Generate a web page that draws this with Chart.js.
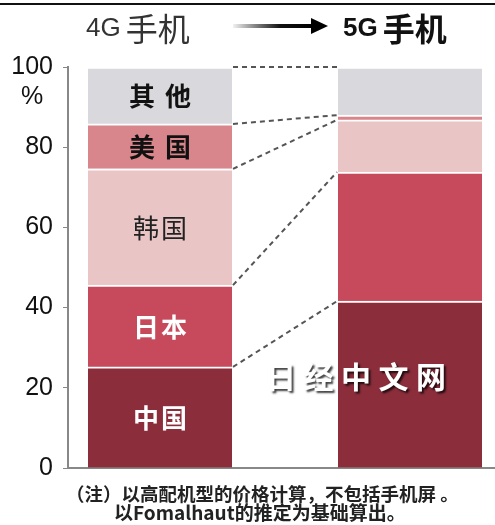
<!DOCTYPE html>
<html>
<head>
<meta charset="utf-8">
<script src="https://cdn.jsdelivr.net/npm/chart.js@4"></script>
<style>
  html, body { margin: 0; padding: 0; background: #fff; }
  canvas { display: block; }
</style>
</head>
<body>
<canvas id="shareChart" width="495" height="525"></canvas>
<script>
// phone generations and the share of parts cost by country (%)
const phones = ['4G手机', '5G手机'];
const regions = ['中国', '日本', '韩国', '美国', '其他'];
const china = [25.2, 41.6];
const japan = [20.4, 32.2];
const korea = [29.0, 13.0];
const usa = [11.2, 1.2];
const others = [14.2, 12.0];
const yTicks = [0, 20, 40, 60, 80, 100];

const seriesValues = [china, japan, korea, usa, others];
const colors = ['#8b2d3b', '#c7495c', '#e9c5c5', '#d8868c', '#d9d9dd'];

// labels written inside the 4G bar
const barLabels = [
  { chars: ['中', '国'], gap: 14, color: '#fff', weight: 'bold' },
  { chars: ['日', '本'], gap: 14, color: '#fff', weight: 'bold' },
  { chars: ['韩', '国'], gap: 14, color: '#222', weight: 'normal' },
  { chars: ['美', '国'], gap: 18, color: '#111', weight: 'bold' },
  { chars: ['其', '他'], gap: 18, color: '#111', weight: 'bold' }
];

const note1 = '（注）以高配机型的价格计算，不包括手机屏 。';
const note2 = '以Fomalhaut的推定为基础算出。';
const watermark = ['日', '经', '中', '文', '网'];

const cjk = '"Noto Sans CJK SC", sans-serif';
const latin = '"Liberation Sans", Arial, "Noto Sans CJK SC", sans-serif';

const datasets = regions.map((name, d) => ({
  label: name,
  data: seriesValues[d].map((v, i) => ({ x: i, y: v })),
  backgroundColor: colors[d],
  borderColor: '#fff',
  borderWidth: { top: 2, left: 0, right: 0, bottom: 0 },
  borderSkipped: false,
  barThickness: 144
}));

// heading split into latin and CJK runs so each gets its own size
function drawHeading(ctx, text, x, y, weight, color) {
  const head = text.slice(0, 2);
  const tail = text.slice(2);
  ctx.fillStyle = color;
  ctx.font = weight + ' 26px ' + latin;
  ctx.fillText(head, x, y);
  const w = ctx.measureText(head).width;
  ctx.font = weight + ' 32px ' + cjk;
  ctx.fillText(tail, x + w + 5, y);
}

const decorations = {
  id: 'decorations',
  afterDatasetsDraw(chart) {
    const ctx = chart.ctx;
    const metas = chart.data.datasets.map((ds, d) => chart.getDatasetMeta(d));

    // dashed links between the segment tops of the two bars
    ctx.save();
    ctx.strokeStyle = '#555';
    ctx.lineWidth = 2;
    ctx.setLineDash([5, 4]);
    metas.forEach(meta => {
      const a = meta.data[0];
      const b = meta.data[1];
      ctx.beginPath();
      ctx.moveTo(a.x + a.width / 2 + 1, a.y);
      ctx.lineTo(b.x - b.width / 2 - 1, b.y);
      ctx.stroke();
    });
    ctx.restore();

    // country names inside the first bar
    ctx.save();
    ctx.textAlign = 'center';
    ctx.textBaseline = 'middle';
    metas.forEach((meta, d) => {
      const bar = meta.data[0];
      const lbl = barLabels[d];
      const cy = (bar.y + bar.base) / 2 + 1;
      ctx.font = lbl.weight + ' 26px ' + cjk;
      ctx.fillStyle = lbl.color;
      ctx.fillText(lbl.chars[0], bar.x - lbl.gap, cy);
      ctx.fillText(lbl.chars[1], bar.x + lbl.gap, cy);
    });
    ctx.restore();

    // site watermark
    ctx.save();
    ctx.font = 'bold 30px ' + cjk;
    ctx.textAlign = 'center';
    ctx.textBaseline = 'middle';
    ctx.fillStyle = '#fff';
    ctx.shadowColor = 'rgba(0,0,0,0.75)';
    ctx.shadowOffsetX = 2;
    ctx.shadowOffsetY = 2;
    ctx.shadowBlur = 2;
    watermark.forEach((ch, i) => ctx.fillText(ch, 281 + i * 37.5, 377));
    ctx.restore();
  },
  afterDraw(chart) {
    const ctx = chart.ctx;
    ctx.save();

    // rule along the top
    ctx.strokeStyle = '#111';
    ctx.lineWidth = 2;
    ctx.beginPath();
    ctx.moveTo(0, 4);
    ctx.lineTo(495, 4);
    ctx.stroke();

    // headings
    ctx.textBaseline = 'middle';
    ctx.textAlign = 'left';
    drawHeading(ctx, phones[0], 86, 29, 'normal', '#333');
    drawHeading(ctx, phones[1], 343, 29, 'bold', '#111');

    // arrow between headings
    const grad = ctx.createLinearGradient(233, 0, 312, 0);
    grad.addColorStop(0, 'rgba(0,0,0,0.05)');
    grad.addColorStop(0.6, '#111');
    grad.addColorStop(1, '#000');
    ctx.strokeStyle = grad;
    ctx.lineWidth = 4;
    ctx.beginPath();
    ctx.moveTo(233, 26);
    ctx.lineTo(313, 26);
    ctx.stroke();
    ctx.fillStyle = '#000';
    ctx.beginPath();
    ctx.moveTo(311, 18);
    ctx.lineTo(328, 26);
    ctx.lineTo(311, 34);
    ctx.closePath();
    ctx.fill();

    // unit under the top tick
    ctx.textAlign = 'center';
    ctx.fillStyle = '#111';
    ctx.font = '25px ' + latin;
    ctx.fillText('%', 32, 97);

    // footnote
    ctx.textAlign = 'left';
    ctx.fillStyle = '#222';
    ctx.font = 'bold 18.5px ' + cjk;
    ctx.fillText(note1, 66, 494);
    ctx.font = 'bold 19px ' + cjk;
    ctx.fillText(note2, 114, 513);
    ctx.restore();
  }
};

new Chart(document.getElementById('shareChart'), {
  type: 'bar',
  data: { datasets },
  options: {
    responsive: false,
    animation: false,
    layout: { padding: { top: 67, bottom: 57, left: 0, right: 0 } },
    plugins: { legend: { display: false }, tooltip: { enabled: false } },
    scales: {
      x: {
        type: 'linear',
        stacked: true,
        offset: false,
        min: -0.368,
        max: 1.34,
        grid: { display: false },
        ticks: { display: false },
        border: { display: true, color: '#888', width: 2 },
        afterFit: s => { s.height = 0; }
      },
      y: {
        stacked: true,
        min: 0,
        max: 100,
        afterBuildTicks: s => { s.ticks = yTicks.map(v => ({ value: v })); },
        ticks: { color: '#111', font: { family: latin, size: 25 }, padding: 10 },
        grid: { display: true, drawOnChartArea: false, drawTicks: true, tickLength: 5, color: '#888' },
        border: { display: true, color: '#888', width: 2 },
        afterFit: s => { s.width = 68; }
      }
    }
  },
  plugins: [decorations]
});
</script>
</body>
</html>
